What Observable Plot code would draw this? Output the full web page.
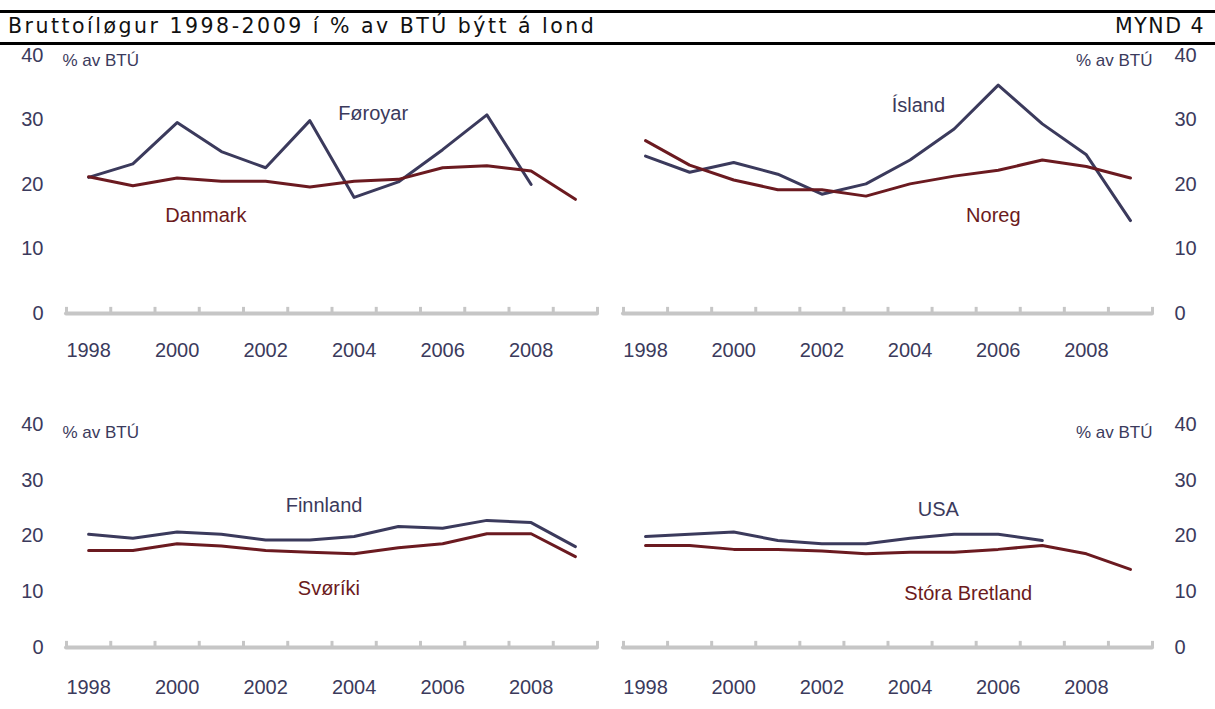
<!DOCTYPE html>
<html><head><meta charset="utf-8">
<script src="https://cdn.jsdelivr.net/npm/d3@7"></script>
<script src="https://cdn.jsdelivr.net/npm/@observablehq/plot@0.6"></script>
<style>
body{margin:0;background:#fff;width:1215px;height:709px;position:relative;overflow:hidden;font-family:"Liberation Sans",Arial,sans-serif}
.rule{position:absolute;left:0;width:1215px;height:3px;background:#000}
.hdr{position:absolute;top:16px;font-family:"DejaVu Sans",sans-serif;font-size:20.5px;line-height:20px;letter-spacing:2.5px;color:#111;white-space:nowrap}
.panel{position:absolute}
</style></head>
<body>
<div class="rule" style="top:10px"></div>
<div class="rule" style="top:42px"></div>
<div class="hdr" style="left:8px">Bruttoíløgur 1998-2009 í % av BTÚ býtt á lond</div>
<div class="hdr" style="right:10px;letter-spacing:1.5px">MYND 4</div>
<div id="tl" class="panel" style="left:0;top:45px"></div>
<div id="tr" class="panel" style="left:607px;top:45px"></div>
<div id="bl" class="panel" style="left:0;top:400px"></div>
<div id="br" class="panel" style="left:607px;top:400px"></div>
<script>
// ---- data ----
const years = [1998,1999,2000,2001,2002,2003,2004,2005,2006,2007,2008,2009];
const yearTicks = [1998,2000,2002,2004,2006,2008];
const valueTicks = [0,10,20,30,40];
const unitLabel = "% av BTÚ";
const foroyar  = [21.1,23.2,29.6,25.1,22.6,29.9,18.0,20.4,25.4,30.8,20.0];
const danmark  = [21.2,19.8,21.0,20.5,20.5,19.6,20.5,20.8,22.6,22.9,22.1,17.7];
const island   = [24.4,21.9,23.4,21.6,18.5,20.1,23.8,28.6,35.4,29.4,24.6,14.4];
const noreg    = [26.8,23.0,20.7,19.2,19.2,18.2,20.1,21.3,22.2,23.8,22.8,21.0];
const finnland = [20.3,19.6,20.7,20.3,19.3,19.3,19.9,21.7,21.4,22.8,22.4,18.1];
const svoriki  = [17.4,17.4,18.6,18.2,17.4,17.1,16.8,17.9,18.6,20.4,20.4,16.3];
const usa      = [19.9,20.3,20.7,19.2,18.6,18.6,19.6,20.3,20.3,19.2];
const bretland = [18.3,18.3,17.6,17.6,17.3,16.8,17.1,17.1,17.6,18.3,16.8,14.0];

// ---- styles ----
const BLUE = "#3b3a5c", RED = "#6b1a20", TEXT = "#3b3a5c", GRAY = "#c6c6c6";
const FONT = "Liberation Sans, Arial, sans-serif";

const rows = vals => vals.map((v,i) => ({year: years[i], value: v}));
const bounds = years.map(y => y - 0.5).concat([years[years.length-1] + 0.5]);

function panel(el, o) {
  const chart = Plot.plot({
    width: o.width, height: o.height,
    marginLeft: o.ml, marginRight: o.mr, marginTop: o.mt, marginBottom: o.mb,
    style: {fontFamily: FONT, background: "transparent", overflow: "visible"},
    x: {domain: [bounds[0], bounds[bounds.length-1]]},
    y: {domain: [0, 40]},
    marks: [
      Plot.ruleY([0], {stroke: GRAY, strokeWidth: 4, strokeLinecap: "round"}),
      Plot.ruleX(bounds, {y1: 0, y2: o.tick, stroke: GRAY, strokeWidth: 3}),
      Plot.axisX({ticks: yearTicks, tickFormat: "d", tickSize: 0, tickPadding: o.xpad, fontSize: 20, color: TEXT, label: null}),
      Plot.axisY({anchor: o.side, ticks: valueTicks, tickSize: 0, tickPadding: o.ypad, fontSize: 20, color: TEXT, label: null}),
      Plot.text([unitLabel], {frameAnchor: o.side === "left" ? "top-left" : "top-right",
        textAnchor: o.side === "left" ? "start" : "end", lineAnchor: "middle",
        dx: o.side === "left" ? -4 : 0, dy: o.udy, fontSize: 17, fill: TEXT}),
      Plot.line(rows(o.a), {x: "year", y: "value", stroke: BLUE, strokeWidth: 3}),
      Plot.line(rows(o.b), {x: "year", y: "value", stroke: RED, strokeWidth: 3}),
      Plot.text(o.labels, {x: "x", y: "y", text: "name", fill: "color", fontSize: 20})
    ]
  });
  document.getElementById(el).appendChild(chart);
}

const topRow = {height: 320, mt: 10, mb: 52, tick: 0.95, xpad: 29, udy: 5};
const botRow = {height: 297, mt: 24, mb: 50, tick: 1.1, xpad: 32, udy: 8};
const leftCol = {width: 607, ml: 66, mr: 10, side: "left", ypad: 23};
const rightCol = {width: 608, ml: 16, mr: 63, side: "right", ypad: 22};

panel("tl", {...topRow, ...leftCol, a: foroyar, b: danmark, labels: [
  {name: "Føroyar", x: 2004.43, y: 31.0, color: BLUE},
  {name: "Danmark", x: 2000.65, y: 15.2, color: RED}]});
panel("tr", {...topRow, ...rightCol, a: island, b: noreg, labels: [
  {name: "Ísland", x: 2004.19, y: 32.2, color: BLUE},
  {name: "Noreg", x: 2005.89, y: 15.2, color: RED}]});
panel("bl", {...botRow, ...leftCol, a: finnland, b: svoriki, labels: [
  {name: "Finnland", x: 2003.32, y: 25.4, color: BLUE},
  {name: "Svøríki", x: 2003.43, y: 10.6, color: RED}]});
panel("br", {...botRow, ...rightCol, a: usa, b: bretland, labels: [
  {name: "USA", x: 2004.64, y: 24.7, color: BLUE},
  {name: "Stóra Bretland", x: 2005.32, y: 9.7, color: RED}]});
</script>
</body></html>
